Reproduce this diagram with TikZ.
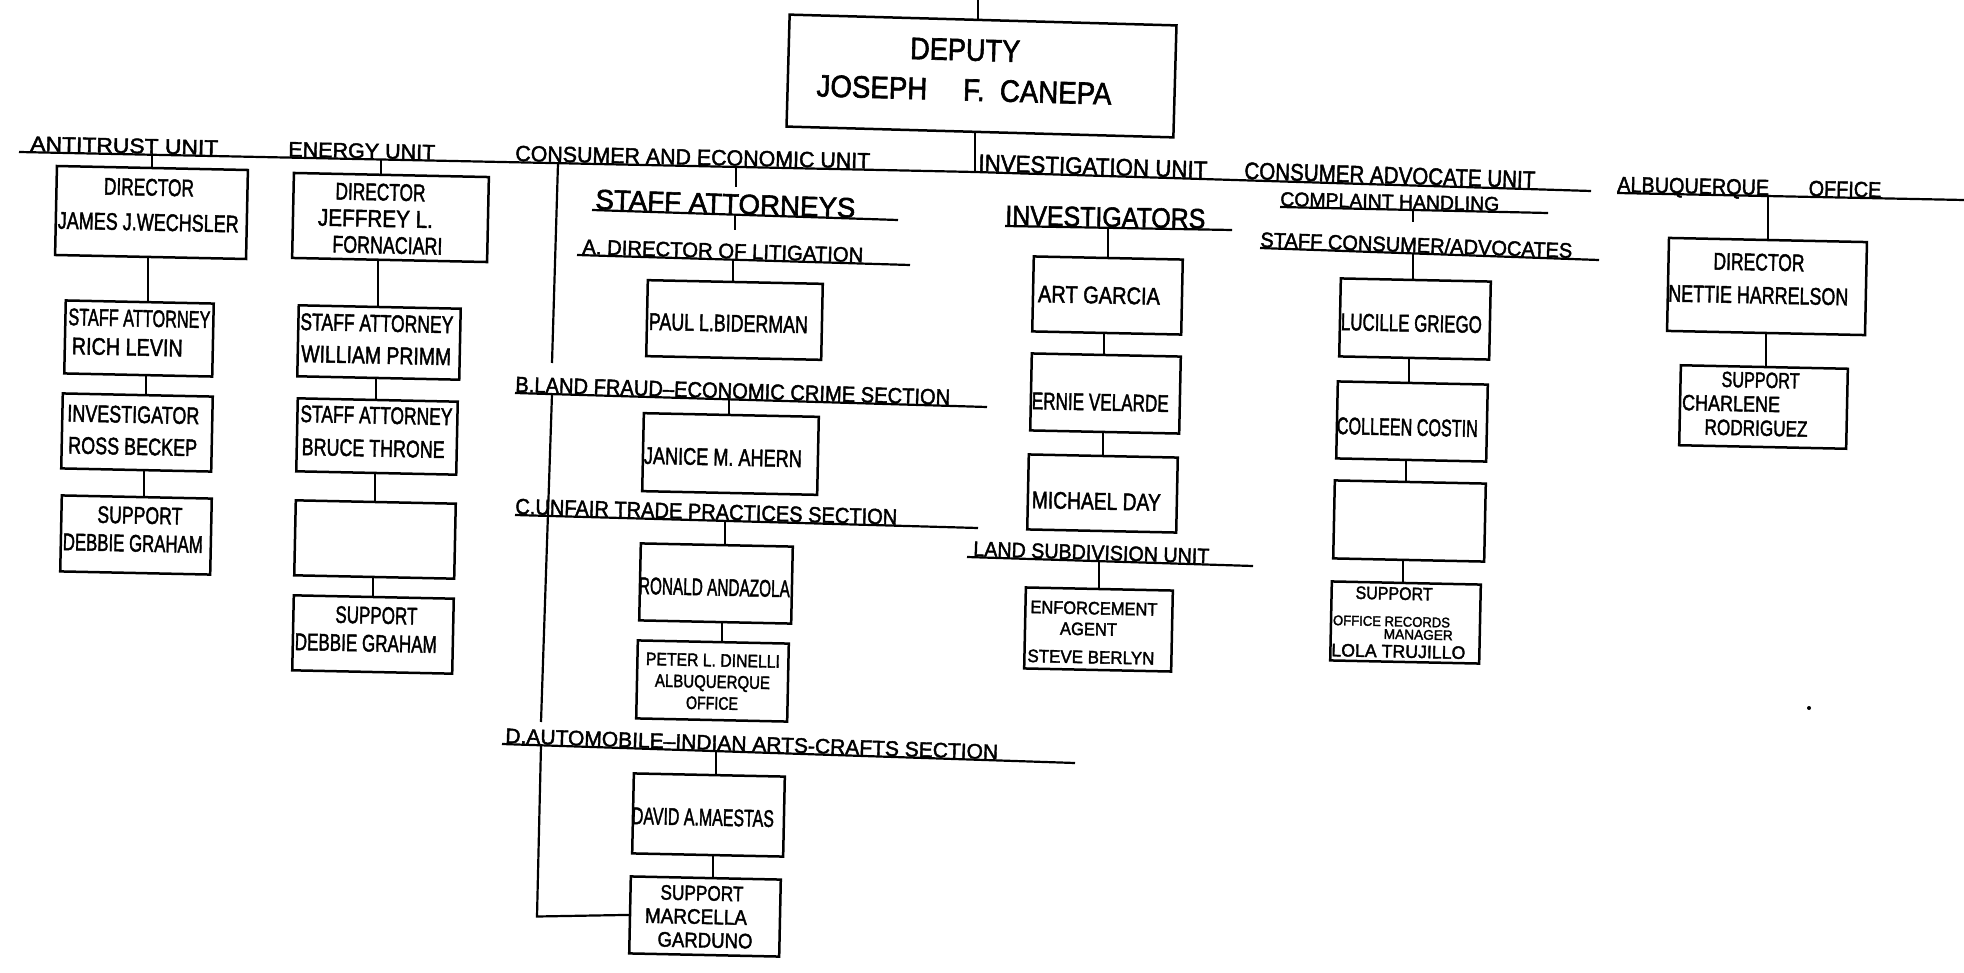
\documentclass[tikz,border=0pt]{standalone}
\usepackage{fontspec}
\setmainfont{Liberation Sans}[FakeBold=2]
\usepackage{graphicx}
\newcommand\fitto[2]{\resizebox{#1pt}{\height}{#2}}
\newcommand\bxt[4]{\raisebox{#2pt}[\height][\depth]{\hspace*{#1pt}\begin{tabular}{@{}#3@{}}#4\end{tabular}\hspace*{-#1pt}}}
\newcommand\vconn[3]{\coordinate (vx) at (#3,0); \draw[ln] (vx |- #1.south) -- (vx |- #2.north);}
\tikzset{
  bx/.style={draw, line width=2.5pt, inner sep=0pt, anchor=center, rotate=-1.2},
  ln/.style={line width=2.2pt},
  lbl/.style={inner sep=0pt, anchor=base west},
  fnm/.style={font=\fontsize{24}{#1}\selectfont},
}
\begin{document}
\begin{tikzpicture}[x=1pt,y=-1pt]
\path[use as bounding box, fill=white] (0,0) rectangle (1964,973);

% ---------- main lines ----------
\coordinate (m0) at (19,152);
\coordinate (m1) at (550,163);
\coordinate (m2) at (975,172);
\coordinate (m3) at (1591,191);
\draw[ln] (m0) -- (m1) -- (m2) -- (m3);
\coordinate (alb0) at (1617,193);
\coordinate (alb1) at (1964,200);
\draw[ln] (alb0) -- (alb1);

% ---------- deputy ----------
\node[bx, rotate=-0.4, minimum width=387pt, minimum height=112pt, font=\fontsize{31}{40}\selectfont] (dep) at (981.5,76)
  {\bxt{-17}{3}{c}{\fitto{110}{DEPUTY}\\\fitto{295}{JOSEPH\hspace{1.3em}F.\hspace{0.55em}CANEPA}}};
\coordinate (top) at (978,0);
\draw[ln] (top) -- (top |- dep.north);
\coordinate (jDep) at (975,172);
\draw[ln] (jDep |- dep.south) -- (jDep);

% ---------- unit labels ----------
\node[lbl, rotate=-1.2, font=\fontsize{21}{25}\selectfont] (lAnti) at (30,151) {\fitto{188}{ANTITRUST UNIT}};
\node[lbl, rotate=-1.2, font=\fontsize{21}{25}\selectfont] (lEnergy) at (288,156.5) {\fitto{147}{ENERGY UNIT}};
\node[lbl, rotate=-1.2, font=\fontsize{22}{26}\selectfont] (lCons) at (515,161) {\fitto{355}{CONSUMER AND ECONOMIC UNIT}};
\node[lbl, rotate=-1.8, font=\fontsize{24}{28}\selectfont] (lInv) at (978,171) {\fitto{229}{INVESTIGATION UNIT}};
\node[lbl, rotate=-1.8, font=\fontsize{24}{28}\selectfont] (lCAU) at (1244,179) {\fitto{291}{CONSUMER ADVOCATE UNIT}};
\node[lbl, rotate=-1.2, font=\fontsize{22}{26}\selectfont] (lAlb) at (1617,192) {\fitto{264}{ALBUQUERQUE\hspace{2em}OFFICE}};

% ---------- antitrust ----------
\node[bx, minimum width=191pt, minimum height=89pt, fnm=35] (ad) at (151.5,212.5)
  {\bxt{-3}{6.4}{c}{\fitto{90}{DIRECTOR}\\\fitto{181}{JAMES J.WECHSLER}}};
\node[bx, minimum width=148pt, minimum height=73pt, fnm=29] (as1) at (139,338.5)
  {\bxt{0}{3.2}{l}{\fitto{142}{STAFF ATTORNEY}\\\hspace*{4pt}\fitto{111}{RICH LEVIN}}};
\node[bx, minimum width=150pt, minimum height=75pt, fnm=32] (ai) at (137,432.5)
  {\bxt{-4}{0}{c}{\fitto{132}{INVESTIGATOR}\\\fitto{129}{ROSS BECKEP}}};
\node[bx, minimum width=150pt, minimum height=76pt, fnm=28] (asup) at (136,535)
  {\bxt{-3}{3}{l}{\hspace*{34pt}\fitto{85}{SUPPORT}\\\fitto{140}{DEBBIE GRAHAM}}};
\coordinate (jAnti) at (152,154.8);
\draw[ln] (jAnti) -- (jAnti |- ad.north);
\vconn{ad}{as1}{148}
\vconn{as1}{ai}{146}
\vconn{ai}{asup}{144}

% ---------- energy ----------
\node[bx, minimum width=195pt, minimum height=85pt, fnm=26.5] (ed) at (390.5,217.5)
  {\bxt{-10}{-4.3}{l}{\hspace*{17pt}\fitto{90}{DIRECTOR}\\\fitto{115}{JEFFREY L.}\\\hspace*{15pt}\fitto{110}{FORNACIARI}}};
\node[bx, minimum width=162pt, minimum height=71pt, fnm=32] (es1) at (379,342.5)
  {\bxt{-2.5}{1.3}{c}{\fitto{153}{STAFF ATTORNEY}\\\fitto{150}{WILLIAM PRIMM}}};
\node[bx, minimum width=160pt, minimum height=73pt, fnm=33] (es2) at (377,436.5)
  {\bxt{-1}{3}{l}{\fitto{152}{STAFF ATTORNEY}\\\hspace*{2pt}\fitto{143}{BRUCE THRONE}}};
\node[bx, minimum width=160pt, minimum height=75pt] (ee) at (375,539.5) {};
\node[bx, minimum width=160pt, minimum height=75pt, fnm=28] (esup) at (373,634.5)
  {\bxt{-7}{2.5}{l}{\hspace*{40pt}\fitto{82}{SUPPORT}\\\fitto{142}{DEBBIE GRAHAM}}};
\coordinate (jEn) at (381,159.5);
\draw[ln] (jEn) -- (jEn |- ed.north);
\vconn{ed}{es1}{378}
\vconn{es1}{es2}{376}
\vconn{es2}{ee}{375}
\vconn{ee}{esup}{373}

% ---------- consumer and economic ----------
\node[lbl, rotate=-1.9, font=\fontsize{28}{32}\selectfont] (lSA) at (595,209) {\fitto{260}{STAFF ATTORNEYS}};
\node[lbl, rotate=-1.7, font=\fontsize{21}{25}\selectfont] (lA) at (582,254) {\fitto{281}{A. DIRECTOR OF LITIGATION}};
\node[lbl, rotate=-1.7, font=\fontsize{22}{26}\selectfont] (lB) at (515,392) {\fitto{435}{B.LAND FRAUD–ECONOMIC CRIME SECTION}};
\node[lbl, rotate=-1.6, font=\fontsize{22}{26}\selectfont] (lC) at (515,514) {\fitto{382}{C.UNFAIR TRADE PRACTICES SECTION}};
\node[lbl, rotate=-1.9, font=\fontsize{21}{25}\selectfont] (lD) at (505,743) {\fitto{493}{D.AUTOMOBILE–INDIAN ARTS-CRAFTS SECTION}};

\draw[ln] (592,210) coordinate (uSA0) -- (898,220) coordinate (uSA1);
\draw[ln] (577,255) coordinate (uA0) -- (910,265) coordinate (uA1);
\draw[ln] (515,393) coordinate (uB0) -- (987,407) coordinate (uB1);
\draw[ln] (515,515) coordinate (uC0) -- (978,528) coordinate (uC1);
\draw[ln] (502,744) coordinate (uD0) -- (1075,763) coordinate (uD1);

\node[bx, minimum width=175pt, minimum height=76pt, fnm=30] (paul) at (734.5,320)
  {\bxt{-6}{-5.6}{c}{\fitto{159}{PAUL L.BIDERMAN}}};
\node[bx, minimum width=175pt, minimum height=78pt, fnm=30] (janice) at (730.5,454)
  {\bxt{-7.5}{-5.6}{c}{\fitto{158}{JANICE M. AHERN}}};
\node[bx, minimum width=152pt, minimum height=77pt, fnm=30] (ronald) at (716,583.5)
  {\bxt{-1.5}{-6.1}{c}{\fitto{151}{RONALD ANDAZOLA}}};
\node[bx, minimum width=151pt, minimum height=78pt, font=\fontsize{18}{21.5}\selectfont] (peter) at (712.5,681)
  {\bxt{0}{-2.6}{c}{\fitto{134}{PETER L. DINELLI}\\\fitto{115}{ALBUQUERQUE}\\\fitto{52}{OFFICE}}};
\node[bx, minimum width=151pt, minimum height=80pt, fnm=30] (david) at (708.5,815)
  {\bxt{-5.5}{-4.6}{c}{\fitto{142}{DAVID A.MAESTAS}}};
\node[bx, minimum width=150pt, minimum height=77pt, font=\fontsize{21}{23.5}\selectfont] (marc) at (705,916.5)
  {\bxt{-6}{-2.8}{l}{\hspace*{15pt}\fitto{83}{SUPPORT}\\\fitto{102}{MARCELLA}\\\hspace*{13pt}\fitto{95}{GARDUNO}}};

\coordinate (jCons) at (558,163.2);
\coordinate (cv1) at (552,363);
\draw[ln] (jCons) -- (cv1);
\coordinate (jBv) at (552,394.1);
\coordinate (cv2) at (541,722);
\draw[ln] (jBv) -- (cv2);
\coordinate (jDv) at (541,745.3);
\coordinate (cv3) at (537,916.5);
\draw[ln] (jDv) -- (cv3) -- (marc.west);

\coordinate (jSA) at (736,166.9);
\coordinate (sa1) at (736,187);
\draw[ln] (jSA) -- (sa1);
\coordinate (jSAu) at (735,214.7);
\coordinate (sa2) at (735,230);
\draw[ln] (jSAu) -- (sa2);
\coordinate (jA) at (733,259.7);
\draw[ln] (jA) -- (jA |- paul.north);
\coordinate (jB) at (729,399.3);
\draw[ln] (jB) -- (jB |- janice.north);
\coordinate (jC) at (725,520.9);
\draw[ln] (jC) -- (jC |- ronald.north);
\vconn{ronald}{peter}{722}
\coordinate (jD) at (716,751.1);
\draw[ln] (jD) -- (jD |- david.north);
\vconn{david}{marc}{713}

% ---------- investigation ----------
\node[lbl, rotate=-1.0, font=\fontsize{28}{32}\selectfont] (lInvs) at (1005,225) {\fitto{200}{INVESTIGATORS}};
\draw[ln] (1005,226) coordinate (uI0) -- (1232,230) coordinate (uI1);
\node[bx, minimum width=149pt, minimum height=75pt, fnm=30] (art) at (1107.5,295.5)
  {\bxt{-8.5}{-2.1}{c}{\fitto{122}{ART GARCIA}}};
\node[bx, minimum width=149pt, minimum height=77pt, fnm=30] (ernie) at (1105.5,393.5)
  {\bxt{-5}{-11.1}{c}{\fitto{137}{ERNIE VELARDE}}};
\node[bx, minimum width=149pt, minimum height=75pt, fnm=30] (michael) at (1102.5,493.5)
  {\bxt{-6}{-10.1}{c}{\fitto{129}{MICHAEL DAY}}};
\coordinate (jI) at (1108,227.8);
\draw[ln] (jI) -- (jI |- art.north);
\vconn{art}{ernie}{1104}
\vconn{ernie}{michael}{1103}

\node[lbl, rotate=-1.8, font=\fontsize{21}{25}\selectfont] (lLSU) at (973,556) {\fitto{236}{LAND SUBDIVISION UNIT}};
\draw[ln] (967,557) coordinate (uL0) -- (1253,566) coordinate (uL1);
\node[bx, minimum width=147pt, minimum height=81pt, font=\fontsize{18}{21}\selectfont] (enf) at (1098.5,629.5)
  {\bxt{-6}{-5.3}{l}{\hspace*{2pt}\fitto{127}{ENFORCEMENT}\\\hspace*{32pt}\fitto{57}{AGENT}\\[7pt]\fitto{127}{STEVE BERLYN}}};
\coordinate (jL) at (1099,561.2);
\draw[ln] (jL) -- (jL |- enf.north);

% ---------- consumer advocate ----------
\node[lbl, rotate=-1.3, font=\fontsize{20}{24}\selectfont] (lCH) at (1280,206) {\fitto{219}{COMPLAINT HANDLING}};
\draw[ln] (1280,207) coordinate (uH0) -- (1548,213) coordinate (uH1);
\coordinate (jH) at (1413,210);
\coordinate (h1) at (1413,222);
\draw[ln] (jH) -- (h1);
\node[lbl, rotate=-2.0, font=\fontsize{21}{25}\selectfont] (lSCA) at (1260,247) {\fitto{312}{STAFF CONSUMER/ADVOCATES}};
\draw[ln] (1260,248) coordinate (uS0) -- (1599,260) coordinate (uS1);
\node[bx, minimum width=150pt, minimum height=78pt, fnm=30] (lucille) at (1415,319)
  {\bxt{-3.5}{-6.6}{c}{\fitto{141}{LUCILLE GRIEGO}}};
\node[bx, minimum width=150pt, minimum height=77pt, fnm=30] (colleen) at (1412,421.5)
  {\bxt{-4.5}{-8.1}{c}{\fitto{141}{COLLEEN COSTIN}}};
\node[bx, minimum width=151pt, minimum height=78pt] (cempty) at (1409.5,521) {};
\node[bx, minimum width=149pt, minimum height=79pt, font=\fontsize{14}{13}\selectfont] (lola) at (1405.5,622.5)
  {\bxt{-6.5}{-2}{l}{\hspace*{23pt}\fitto{77}{\fontsize{18}{13}\selectfont SUPPORT}\\[13pt]\hspace*{1pt}\fitto{117}{OFFICE RECORDS}\\[-1pt]\hspace*{52pt}\fitto{69}{MANAGER}\\[2pt]\fitto{134}{\fontsize{18}{13}\selectfont LOLA TRUJILLO}}};
\coordinate (jS) at (1413,253.4);
\draw[ln] (jS) -- (jS |- lucille.north);
\vconn{lucille}{colleen}{1409}
\vconn{colleen}{cempty}{1406}
\vconn{cempty}{lola}{1403}

% ---------- albuquerque ----------
\node[bx, minimum width=198pt, minimum height=93pt, fnm=33] (nettie) at (1767,286.5)
  {\bxt{-8.5}{6}{c}{\fitto{91}{DIRECTOR}\\\fitto{180}{NETTIE HARRELSON}}};
\node[bx, minimum width=167pt, minimum height=80pt, font=\fontsize{22}{24}\selectfont] (charl) at (1763.5,407)
  {\bxt{-18.5}{0}{l}{\hspace*{39pt}\fitto{78}{SUPPORT}\\\fitto{98}{CHARLENE}\\\hspace*{23pt}\fitto{103}{RODRIGUEZ}}};
\coordinate (jAlb) at (1768,196);
\draw[ln] (jAlb) -- (jAlb |- nettie.north);
\vconn{nettie}{charl}{1766}

\fill (1809,708) circle (2pt);
\end{tikzpicture}
\end{document}
